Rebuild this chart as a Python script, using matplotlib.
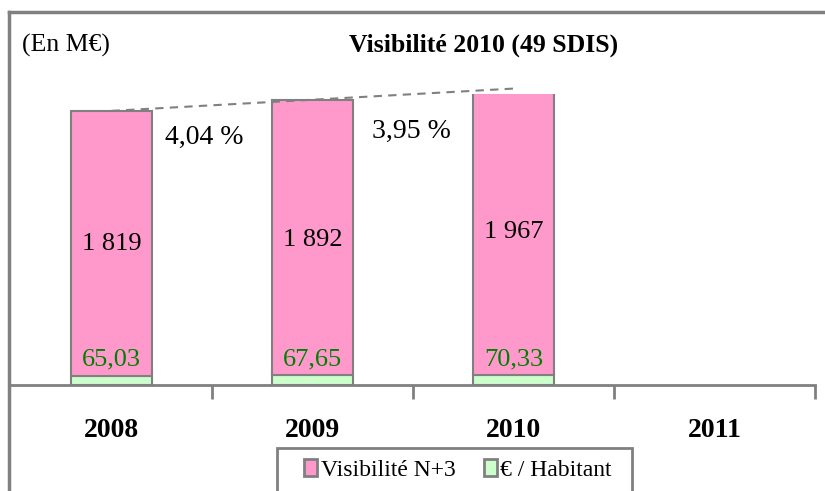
import matplotlib
matplotlib.use("Agg")
import matplotlib.pyplot as plt
from matplotlib.patches import Rectangle, Patch
from matplotlib.lines import Line2D

plt.rcParams['font.family'] = ['Liberation Serif', 'DejaVu Serif']

years = ["2008", "2009", "2010", "2011"]
visibilite = [1819, 1892, 1967]
par_habitant = [65.03, 67.65, 70.33]
labels_vis = ["1 819", "1 892", "1 967"]
labels_hab = ["65,03", "67,65", "70,33"]
growth = ["4,04 %", "3,95 %"]

pink = "#FF99CC"
green = "#CCFFCC"
grey = "#808080"

W, H = 825, 491
fig = plt.figure(figsize=(W / 100, H / 100), dpi=100)

def fx(px):
    return px / W

def fy(py):
    return 1 - py / H

ax = fig.add_axes([fx(11), fy(385), fx(815) - fx(11), fy(94) - fy(385)])
ax.set_xlim(-0.5, 3.5)
ax.set_ylim(0, 2000)

xs = list(range(len(visibilite)))
ax.bar(xs, par_habitant, width=0.4, color=green, edgecolor=grey, linewidth=1.5, zorder=2)
ax.bar(xs, visibilite, width=0.4, bottom=par_habitant, color=pink, edgecolor=grey,
       linewidth=1.5, zorder=2)

totals = [v + h for v, h in zip(visibilite, par_habitant)]
ax.plot([xs[0], xs[-1]], [totals[0], totals[-1]], color=grey, linestyle=(0, (4, 3)),
        linewidth=1.5, clip_on=False, zorder=3)

label_y = [970, 995, 1050]
for i, x in enumerate(xs):
    ax.text(x, label_y[i], labels_vis[i], ha='center', va='center',
            fontsize=19, color='black', zorder=4)
    ax.text(x, 178, labels_hab[i], ha='center', va='center', fontsize=19,
            color='#008000', zorder=4)

ax.text(0.46, 1700, growth[0], ha='center', va='center', fontsize=20)
ax.text(1.49, 1745, growth[1], ha='center', va='center', fontsize=20)

for s in ['top', 'right']:
    ax.spines[s].set_visible(False)
ax.spines['left'].set_visible(False)
ax.spines['bottom'].set_color(grey)
ax.spines['bottom'].set_linewidth(2)

ax.set_xticks(range(4))
ax.set_xticklabels(years, fontsize=20, fontweight='bold')
ax.tick_params(axis='x', which='major', length=0, pad=24)
ax.set_xticks([0.5, 1.5, 2.5, 3.5], minor=True)
ax.tick_params(axis='x', which='minor', length=10, width=2, color=grey, direction='out')
ax.set_yticks(range(0, 2001, 200))
ax.set_yticklabels([])
ax.tick_params(axis='y', length=0)

# outer border (left and top)
fig.add_artist(Line2D([fx(9), fx(9)], [fy(12), 0], color=grey, linewidth=2.5,
                      transform=fig.transFigure))
fig.add_artist(Line2D([fx(9), 1], [fy(12), fy(12)], color=grey, linewidth=2.5,
                      transform=fig.transFigure))

fig.text(fx(66), fy(45), "(En M€)", ha='center', va='center', fontsize=18.5)
fig.text(fx(484), fy(45), "Visibilité 2010 (49 SDIS)", ha='center', va='center',
         fontsize=18.5, fontweight='bold')

# legend frame (cut off at the bottom)
fig.add_artist(Rectangle((fx(277), fy(500)), fx(632) - fx(277), fy(448) - fy(500),
                         transform=fig.transFigure, facecolor='white', edgecolor=grey,
                         linewidth=2, clip_on=False))
handles = [Patch(facecolor=pink, edgecolor=grey, linewidth=2, label="Visibilité N+3"),
           Patch(facecolor=green, edgecolor=grey, linewidth=2, label="€ / Habitant")]
fig.legend(handles=handles, loc='center', bbox_to_anchor=(fx(458), fy(470)), ncol=2,
           frameon=False, fontsize=17, handlelength=0.55, handleheight=0.7,
           handletextpad=0.15, columnspacing=1.2)

fig.savefig("out.png", dpi=100)
